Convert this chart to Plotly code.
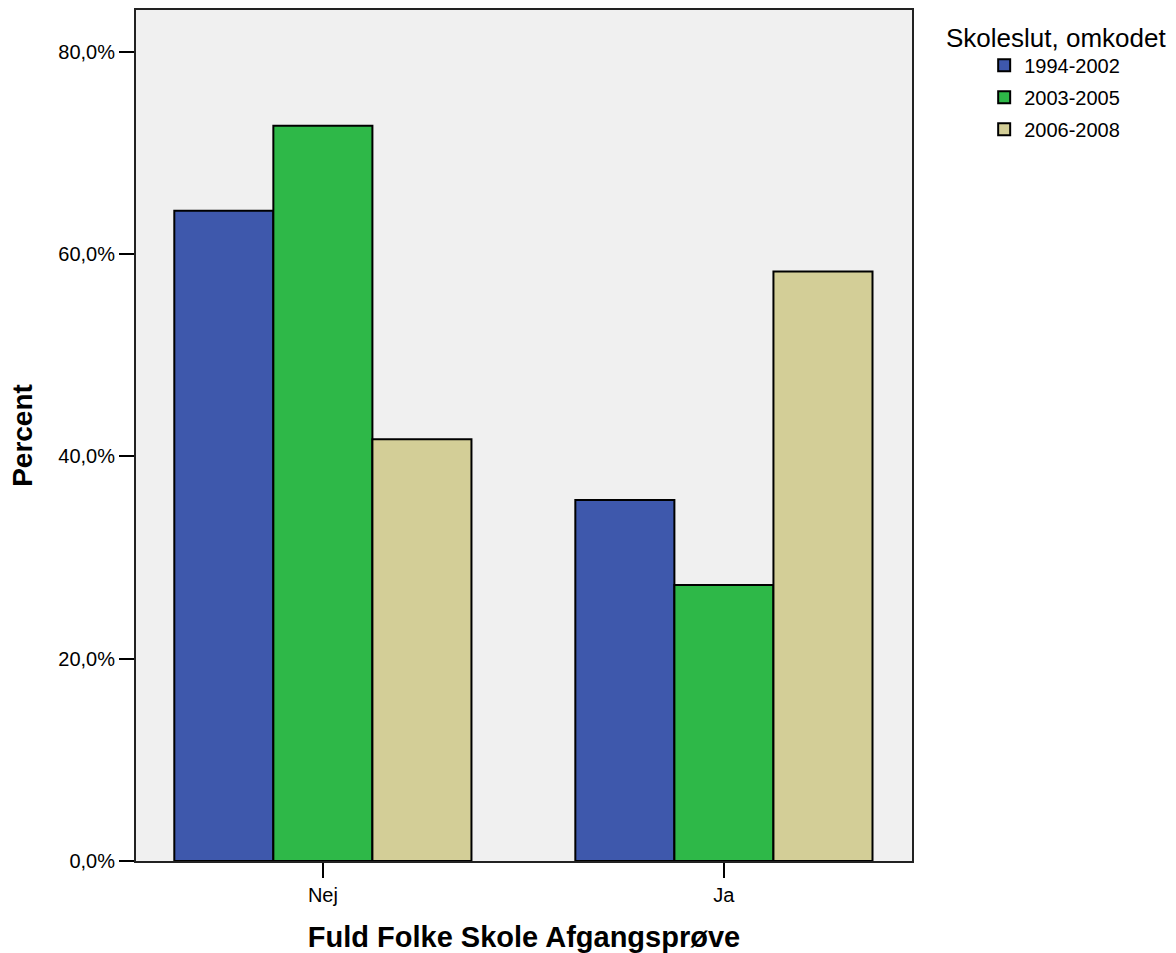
import plotly.graph_objects as go

categories = ["Nej", "Ja"]
series_names = ["1994-2002", "2003-2005", "2006-2008"]
values_1994_2002 = [64.3, 35.7]
values_2003_2005 = [72.7, 27.3]
values_2006_2008 = [41.7, 58.3]
colors = ["#3E58AC", "#2EB848", "#D3CE97"]
y_ticks = [0, 20, 40, 60, 80]
y_tick_labels = ["0,0%", "20,0%", "40,0%", "60,0%", "80,0%"]

all_values = [values_1994_2002, values_2003_2005, values_2006_2008]

FONT = "Liberation Sans, Arial, sans-serif"

fig = go.Figure()
for i, (name, vals) in enumerate(zip(series_names, all_values)):
    fig.add_trace(go.Bar(
        x=categories, y=vals, name=name,
        marker=dict(color=colors[i], line=dict(color="#000000", width=2)),
        legendgroup=name,
    ))

fig.update_layout(
    width=1176, height=953,
    margin=dict(l=136, r=264, t=10, b=91.5, autoexpand=False),
    paper_bgcolor="white",
    plot_bgcolor="#F0F0F0",
    barmode="group",
    bargap=0.259,
    bargroupgap=0,
    font=dict(family=FONT, size=20, color="black"),
    showlegend=True,
    legend=dict(
        x=1.093, xanchor="left", y=0.958, yanchor="top",
        font=dict(size=20, family=FONT),
        bgcolor="rgba(0,0,0,0)",
        tracegroupgap=3,
        itemclick=False,
    ),
    xaxis=dict(
        range=[-0.466, 1.469],
        automargin=False,
        showgrid=False,
        showline=True, linecolor="#222222", linewidth=2, mirror=True,
        ticks="outside", ticklen=15, tickwidth=2, tickcolor="black",
        tickfont=dict(size=20),
        title=dict(text="<b>Fuld Folke Skole Afgangsprøve</b>",
                   font=dict(size=29), standoff=25),
    ),
    yaxis=dict(
        range=[0, 84.15],
        automargin=False,
        tickmode="array",
        tickvals=y_ticks,
        ticktext=y_tick_labels,
        showgrid=False, zeroline=False,
        showline=True, linecolor="#222222", linewidth=2, mirror=True,
        ticks="outside", ticklen=15, tickwidth=2, tickcolor="black",
        tickfont=dict(size=20),
        title=dict(text="<b>Percent</b>", font=dict(size=28), standoff=17),
    ),
    annotations=[dict(
        text="Skoleslut, omkodet", xref="paper", yref="paper",
        x=1.1856, y=0.967, xanchor="center", yanchor="middle",
        showarrow=False, font=dict(size=26, family=FONT),
    )],
)

fig.write_html(
    "out.html",
    config={"displayModeBar": False},
    post_script="document.body.style.margin='0';document.body.style.overflow='hidden';",
)
